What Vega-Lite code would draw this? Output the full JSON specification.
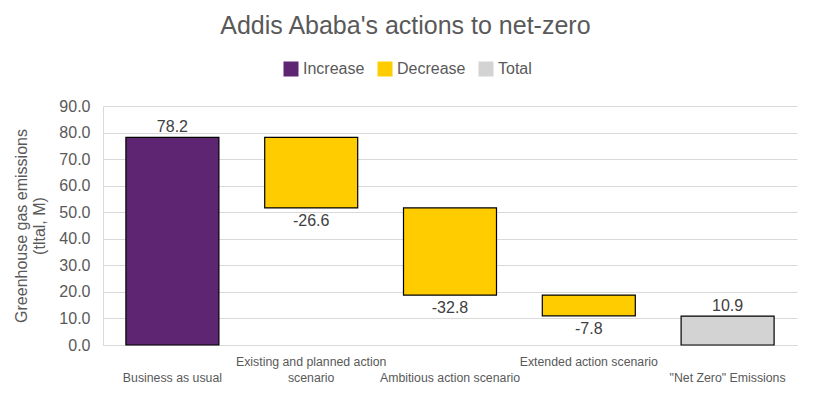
{
  "$schema": "https://vega.github.io/schema/vega-lite/v6.json",
  "width": 694,
  "height": 239,
  "autosize": {"type": "none"},
  "padding": {"left": 103, "top": 106, "right": 16, "bottom": 53},
  "background": "white",
  "title": {"text": "Addis Ababa's actions to net-zero", "anchor": "middle", "frame": "bounds", "fontSize": 25, "font": "Liberation Sans", "fontWeight": "normal", "color": "#595959", "offset": 22},
  "config": {
    "font": "Liberation Sans",
    "view": {"stroke": null}
  },
  "data": {"values": [
    {"step": "Business as usual", "order": 1, "start": 0, "end": 78.2, "label": "78.2", "type": "Increase"},
    {"step": "Existing and planned action scenario", "order": 2, "start": 78.2, "end": 51.6, "label": "-26.6", "type": "Decrease"},
    {"step": "Ambitious action scenario", "order": 3, "start": 51.6, "end": 18.8, "label": "-32.8", "type": "Decrease"},
    {"step": "Extended action scenario", "order": 4, "start": 18.8, "end": 11.0, "label": "-7.8", "type": "Decrease"},
    {"step": "\"Net Zero\" Emissions", "order": 5, "start": 0, "end": 10.9, "label": "10.9", "type": "Total"}
  ]},
  "encoding": {
    "x": {
      "field": "step", "type": "nominal", "sort": {"field": "order"},
      "scale": {"paddingInner": 0.33, "paddingOuter": 0.165},
      "axis": {
        "title": null, "labelAngle": 0, "labelFontSize": 12.3, "labelColor": "#595959", "ticks": false,
        "domainColor": "#d9d9d9", "labelPadding": 10, "labelBaseline": "top", "labelLineHeight": 16, "labelLimit": 0,
        "labelExpr": "datum.label == 'Existing and planned action scenario' ? ['Existing and planned action', 'scenario'] : datum.label == 'Extended action scenario' ? ['Extended action scenario', ''] : ['', datum.label]"
      }
    },
    "y": {
      "field": "end", "type": "quantitative", "scale": {"domain": [0, 90], "nice": false},
      "axis": {
        "title": ["Greenhouse gas emissions", "(tltal, M)"], "format": ".1f", "tickCount": {"signal": "9"},
        "titleFontSize": 16, "titleColor": "#595959", "titleFontWeight": "normal", "titlePadding": 11, "titleLineHeight": 18,
        "labelFontSize": 16, "labelColor": "#595959", "ticks": false, "domainColor": "#d9d9d9", "gridColor": "#d9d9d9", "labelPadding": 13, "labelOverlap": false
      }
    }
  },
  "layer": [
    {
      "mark": {"type": "bar", "stroke": "black", "strokeWidth": 1.2},
      "encoding": {
        "y2": {"field": "start"},
        "color": {
          "field": "type", "type": "nominal",
          "scale": {"domain": ["Increase", "Decrease", "Total"], "range": ["#5E2572", "#FFCC00", "#D3D3D3"]},
          "legend": {"orient": "none", "legendX": 180, "legendY": -45, "direction": "horizontal", "title": null, "symbolType": "square", "symbolSize": 225, "labelFontSize": 16, "labelColor": "#595959", "columnPadding": 12, "labelOffset": 4, "symbolStrokeWidth": 0}
        }
      }
    },
    {
      "transform": [{"filter": "datum.type != 'Decrease'"}],
      "mark": {"type": "text", "baseline": "bottom", "dy": -2, "fontSize": 16, "color": "#404040"},
      "encoding": {"text": {"field": "label", "type": "nominal"}}
    },
    {
      "transform": [{"filter": "datum.type == 'Decrease'"}],
      "mark": {"type": "text", "baseline": "top", "dy": 5, "fontSize": 16, "color": "#404040"},
      "encoding": {"text": {"field": "label", "type": "nominal"}}
    }
  ]
}
